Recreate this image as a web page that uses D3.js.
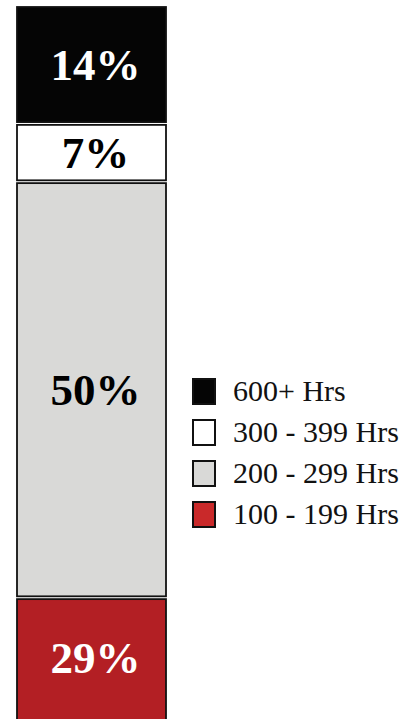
<!DOCTYPE html>
<html>
<head>
<meta charset="utf-8">
<script src="https://cdn.jsdelivr.net/npm/d3@7"></script>
<style>
  html, body { margin: 0; padding: 0; background: #fff; overflow: hidden; }
  svg { display: block; }
</style>
</head>
<body>
<svg id="chart" width="415" height="719"></svg>
<script>
// Share of hours by bracket, stacked top to bottom
const categories = ["600+ Hrs", "300 - 399 Hrs", "200 - 299 Hrs", "100 - 199 Hrs"];
const shares = [14, 7, 50, 29];
const valueLabels = ["14%", "7%", "50%", "29%"];

const W = 415, H = 719;
const fills = ["#050505", "#ffffff", "#d9d9d7", "#b31f24"];
const swatchFills = ["#050505", "#ffffff", "#d9d9d7", "#c9292a"];
const labelFills = ["#ffffff", "#000000", "#000000", "#ffffff"];

const svg = d3.select("#chart");

// Stack the shares into cumulative segments
let acc = 0;
const segments = shares.map((v, i) => {
  const s = { i, start: acc, end: acc + v, value: v };
  acc += v;
  return s;
});

// Vertical scale: the column runs past the bottom edge of the view
const y = d3.scaleLinear().domain([0, 100]).range([7, 839]);
const x = d3.scaleBand().domain(["all"]).range([16, 167]).padding(0);

const gap = 1.4;
const bar = svg.append("g");

bar.selectAll("rect.seg")
  .data(segments)
  .join("rect")
  .attr("class", "seg")
  .attr("x", x("all") + 1)
  .attr("width", x.bandwidth() - 2)
  .attr("y", d => y(d.start) + (d.i === 0 ? 0 : gap))
  .attr("height", d => y(d.end) - y(d.start) - (d.i === 0 ? gap : 2 * gap))
  .attr("fill", d => fills[d.i])
  .attr("stroke", "#111")
  .attr("stroke-width", 1.8);

// Value labels centred in the visible part of each segment
bar.selectAll("text.val")
  .data(segments)
  .join("text")
  .attr("class", "val")
  .attr("x", x("all") + x.bandwidth() / 2 + 4)
  .attr("y", d => {
    const top = y(d.start), bottom = Math.min(y(d.end), H);
    return (top + bottom) / 2 + 15;
  })
  .attr("text-anchor", "middle")
  .attr("font-family", "'Liberation Serif', 'Times New Roman', serif")
  .attr("font-weight", "bold")
  .attr("font-size", 45)
  .attr("fill", d => labelFills[d.i])
  .text(d => valueLabels[d.i]);

// Legend
const legend = svg.append("g").attr("transform", "translate(192,378)");
const item = legend.selectAll("g")
  .data(categories)
  .join("g")
  .attr("transform", (d, i) => `translate(0,${i * 41})`);

item.append("rect")
  .attr("x", 1)
  .attr("y", 1)
  .attr("width", 22)
  .attr("height", 25)
  .attr("fill", (d, i) => swatchFills[i])
  .attr("stroke", "#111")
  .attr("stroke-width", 2);

item.append("text")
  .attr("x", 41)
  .attr("y", 23)
  .attr("font-family", "'Liberation Serif', 'Times New Roman', serif")
  .attr("font-size", 30)
  .attr("fill", "#111")
  .text(d => d);
</script>
</body>
</html>
